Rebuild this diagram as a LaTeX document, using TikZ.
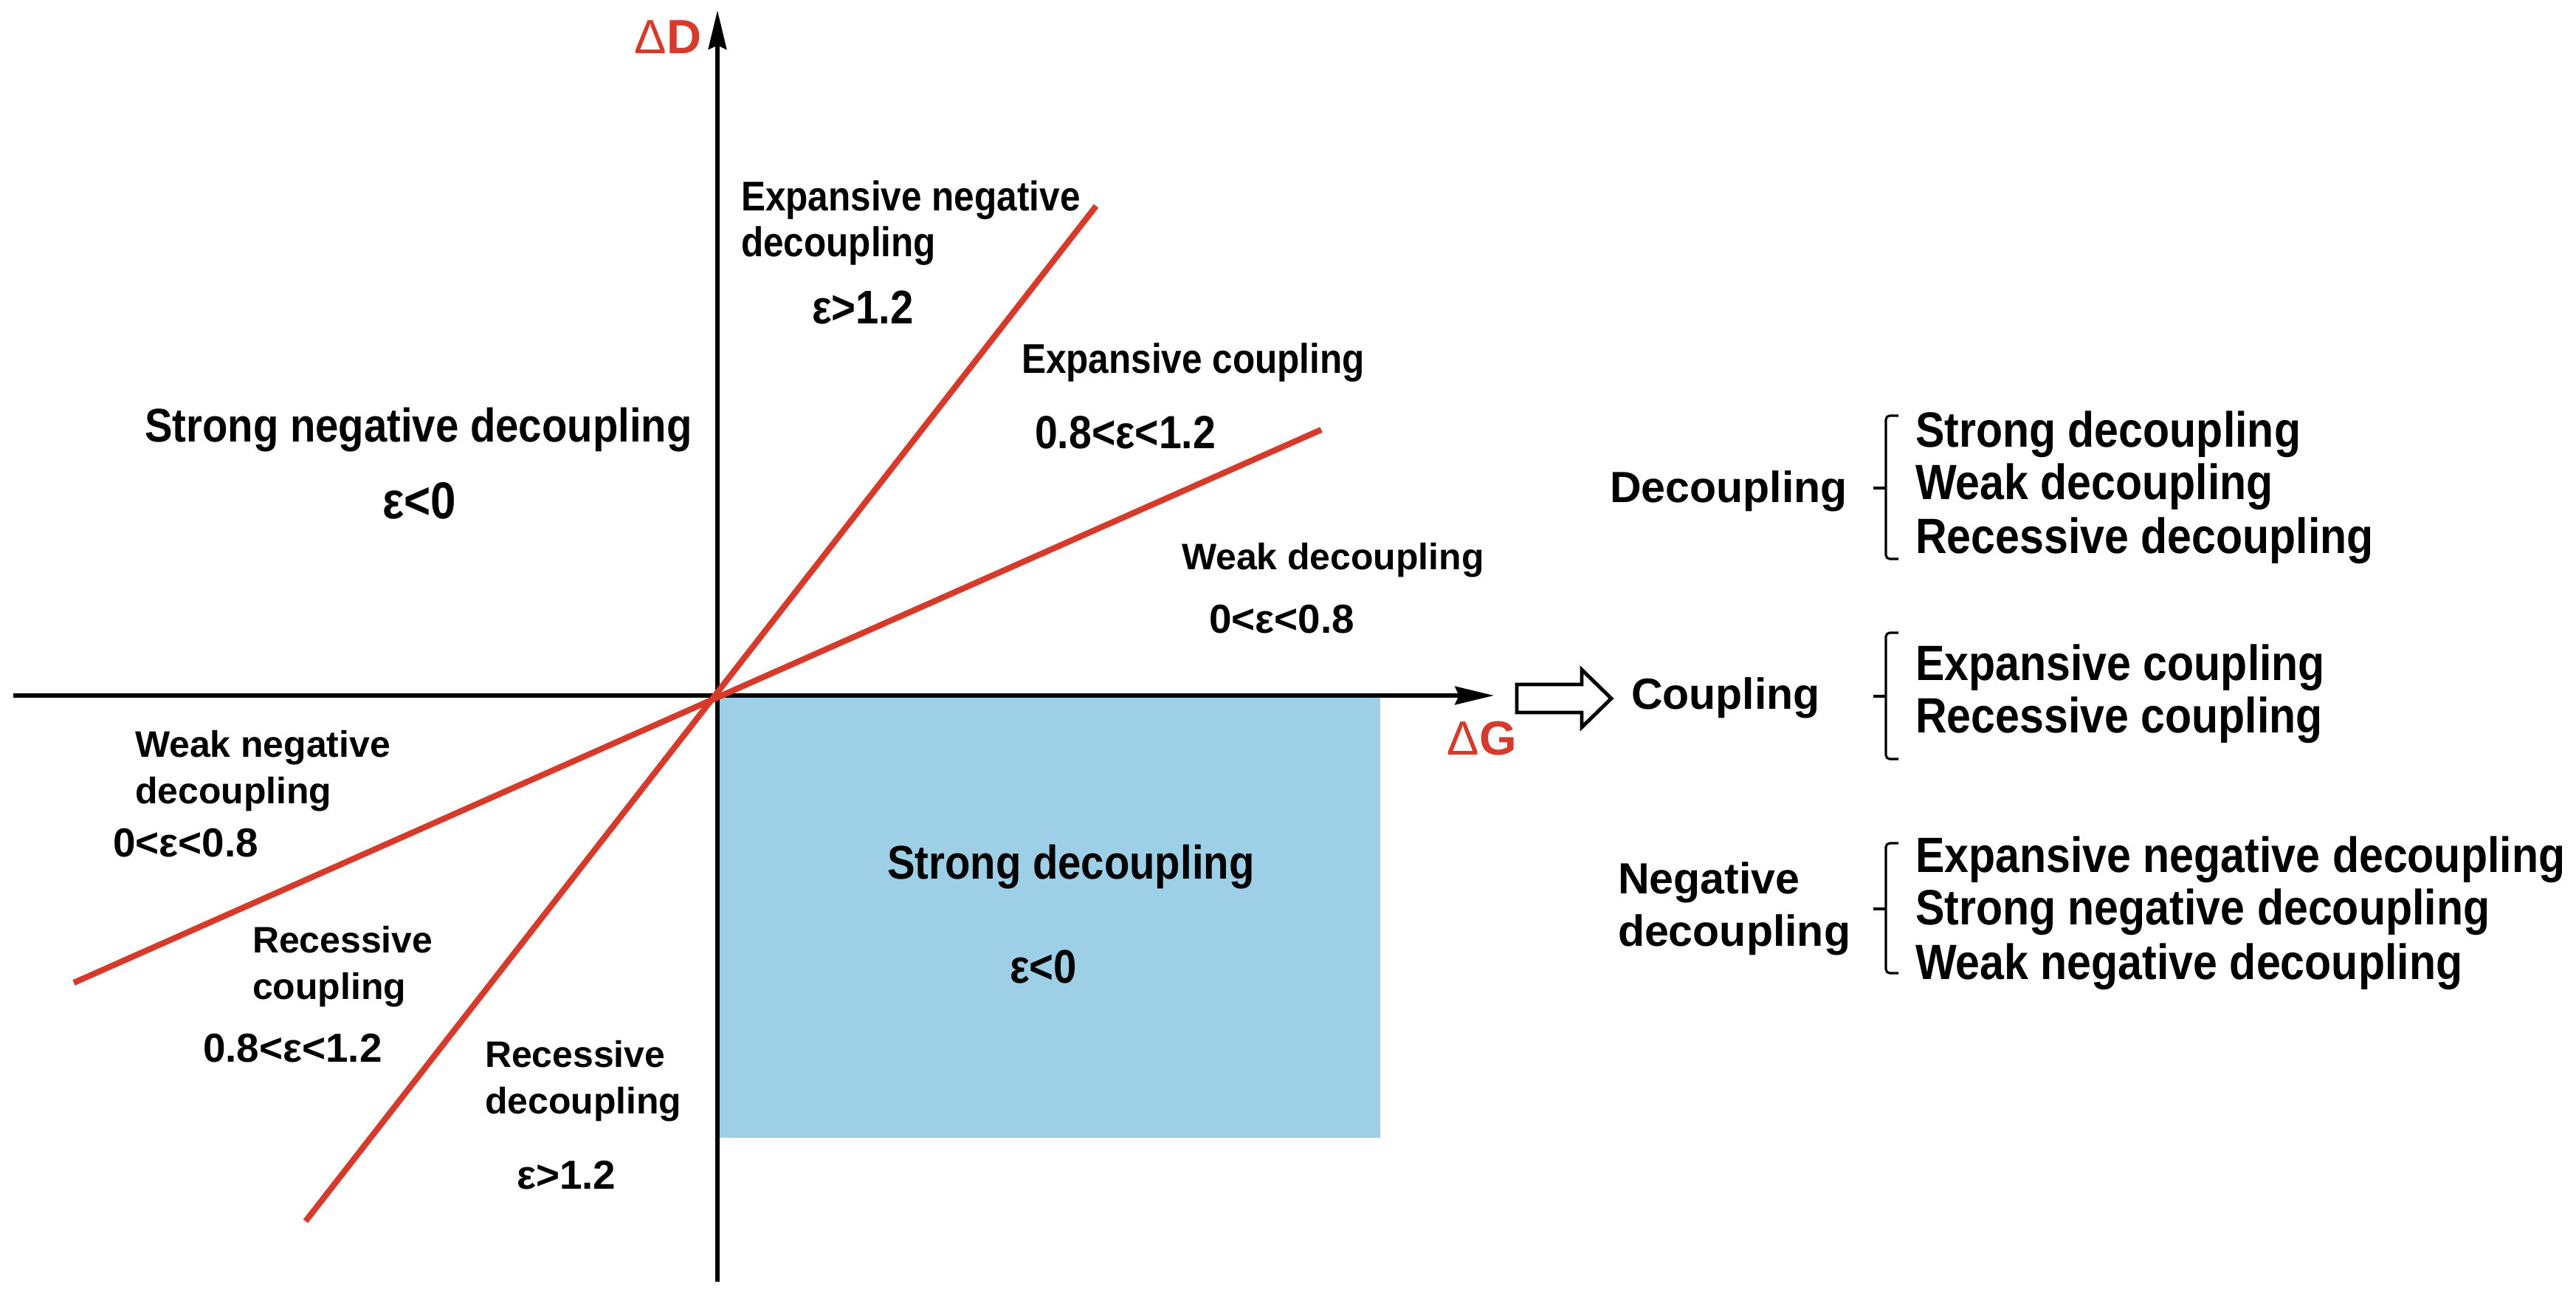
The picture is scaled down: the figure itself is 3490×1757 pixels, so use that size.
\documentclass[tikz,border=0pt]{standalone}
\usepackage{fontspec}
\setmainfont{Liberation Sans}
\newfontfamily\wfam{Liberation Sans}
\newfontfamily\nfam{Liberation Sans}[FakeStretch=0.88]
\usetikzlibrary{arrows.meta}
\definecolor{cred}{HTML}{D63A2A}
\definecolor{cblue}{HTML}{9DCFE6}
\tikzset{
  lbl/.style={inner sep=0pt, outer sep=0pt, anchor=base west},
  wsmall/.style={lbl, font=\wfam\bfseries\fontsize{14.2}{17}\selectfont},
  weps/.style={lbl, font=\wfam\bfseries\fontsize{15.6}{18}\selectfont},
  wbig/.style={lbl, font=\wfam\bfseries\fontsize{16.8}{20}\selectfont},
  nmid/.style={lbl, font=\nfam\bfseries\fontsize{16}{19}\selectfont},
  neps/.style={lbl, font=\nfam\bfseries\fontsize{18.2}{21}\selectfont},
  nbig/.style={lbl, font=\nfam\bfseries\fontsize{18.2}{21}\selectfont},
  nlist/.style={lbl, font=\nfam\bfseries\fontsize{19.1}{22}\selectfont},
  axislab/.style={inner sep=0pt, anchor=center, text=cred, font=\wfam\bfseries\fontsize{18.5}{22}\selectfont},
  axis/.style={line width=1.45pt, -{Stealth[length=15pt,width=7pt,inset=1.5pt]}},
  redline/.style={cred, line width=2.3pt},
  brk/.style={line width=0.9pt, rounded corners=1.5pt},
  hollow/.style={line width=1.4pt, fill=white, line join=miter}
}
\begin{document}
\begin{tikzpicture}[x=0.01cm,y=-0.01cm]
\useasboundingbox (0,0) rectangle (3490,1757);
\fill[white] (0,0) rectangle (3490,1757);
% blue region
\fill[cblue] (975,943) rectangle (1870,1541);
% axes
\coordinate (xL) at (18,942);
\coordinate (xR) at (2024,942);
\coordinate (yB) at (972,1736);
\coordinate (yT) at (972,14);
\draw[axis] (xL) -- (xR);
\draw[axis] (yB) -- (yT);
% red lines
\coordinate (a1) at (414,1654);
\coordinate (a2) at (1485,279);
\coordinate (b1) at (100,1331);
\coordinate (b2) at (1790,582);
\draw[redline] (a1) -- (a2);
\draw[redline] (b1) -- (b2);
% axis labels
\node[axislab] (dD) at (905,50) {{\mdseries Δ}D};
\node[axislab] (dG) at (2008,1000) {{\mdseries Δ}G};
% hollow arrow
\coordinate (ha) at (2055,946);
\draw[hollow] (ha) ++(0,-19) -- ++(88,0) -- ++(0,-20) -- ++(40,39) -- ++(-40,39) -- ++(0,-20) -- ++(-88,0) -- cycle;
% quadrant labels
\node[nmid] (en1) at (1004,285) {Expansive negative};
\node[nmid] (en2) at (1004,347) {decoupling};
\node[neps] (en3) at (1100,438) {ε>1.2};
\node[nmid] (ec1) at (1384,505) {Expansive coupling};
\node[neps, font=\nfam\bfseries\fontsize{17.9}{21}\selectfont] (ec2) at (1402,607) {0.8<ε<1.2};
\node[nbig] (sn1) at (196,598) {Strong negative decoupling};
\node[nbig, anchor=base, font=\nfam\bfseries\fontsize{20}{23}\selectfont] (sn2) at (568,702) {ε<0};
\node[wsmall] (wd1) at (1601,771) {Weak decoupling};
\node[weps] (wd2) at (1638,857) {0<ε<0.8};
\node[wsmall] (wn1) at (183,1025) {Weak negative};
\node[wsmall] (wn2) at (183,1088) {decoupling};
\node[weps] (wn3) at (153,1160) {0<ε<0.8};
\node[wsmall] (rc1) at (342,1290) {Recessive};
\node[wsmall] (rc2) at (342,1353) {coupling};
\node[weps] (rc3) at (275,1438) {0.8<ε<1.2};
\node[wsmall] (rd1) at (657,1445) {Recessive};
\node[wsmall] (rd2) at (657,1508) {decoupling};
\node[weps] (rd3) at (700,1610) {ε>1.2};
\node[nbig] (sd1) at (1202,1190) {Strong decoupling};
\node[nbig] (sd2) at (1368,1331) {ε<0};
% right column headings
\node[wbig] (h1) at (2181,680) {Decoupling};
\node[wbig] (h2) at (2210,960) {Coupling};
\node[wbig] (h3a) at (2192,1210) {Negative};
\node[wbig] (h3b) at (2192,1281) {decoupling};
% brackets
\draw[brk] (2572,563) -- (2555,563) -- (2555,757) -- (2572,757);
\draw[brk] (2538,661) -- (2555,661);
\draw[brk] (2572,857) -- (2555,857) -- (2555,1028) -- (2572,1028);
\draw[brk] (2538,943) -- (2555,943);
\draw[brk] (2572,1142) -- (2555,1142) -- (2555,1318) -- (2572,1318);
\draw[brk] (2538,1231) -- (2555,1231);
% list items
\node[nlist] (l1) at (2595,605) {Strong decoupling};
\node[nlist] (l2) at (2595,676) {Weak decoupling};
\node[nlist] (l3) at (2595,749) {Recessive decoupling};
\node[nlist] (l4) at (2595,921) {Expansive coupling};
\node[nlist] (l5) at (2595,992) {Recessive coupling};
\node[nlist] (l6) at (2595,1181) {Expansive negative decoupling};
\node[nlist] (l7) at (2595,1252) {Strong negative decoupling};
\node[nlist] (l8) at (2595,1326) {Weak negative decoupling};
\end{tikzpicture}
\end{document}
